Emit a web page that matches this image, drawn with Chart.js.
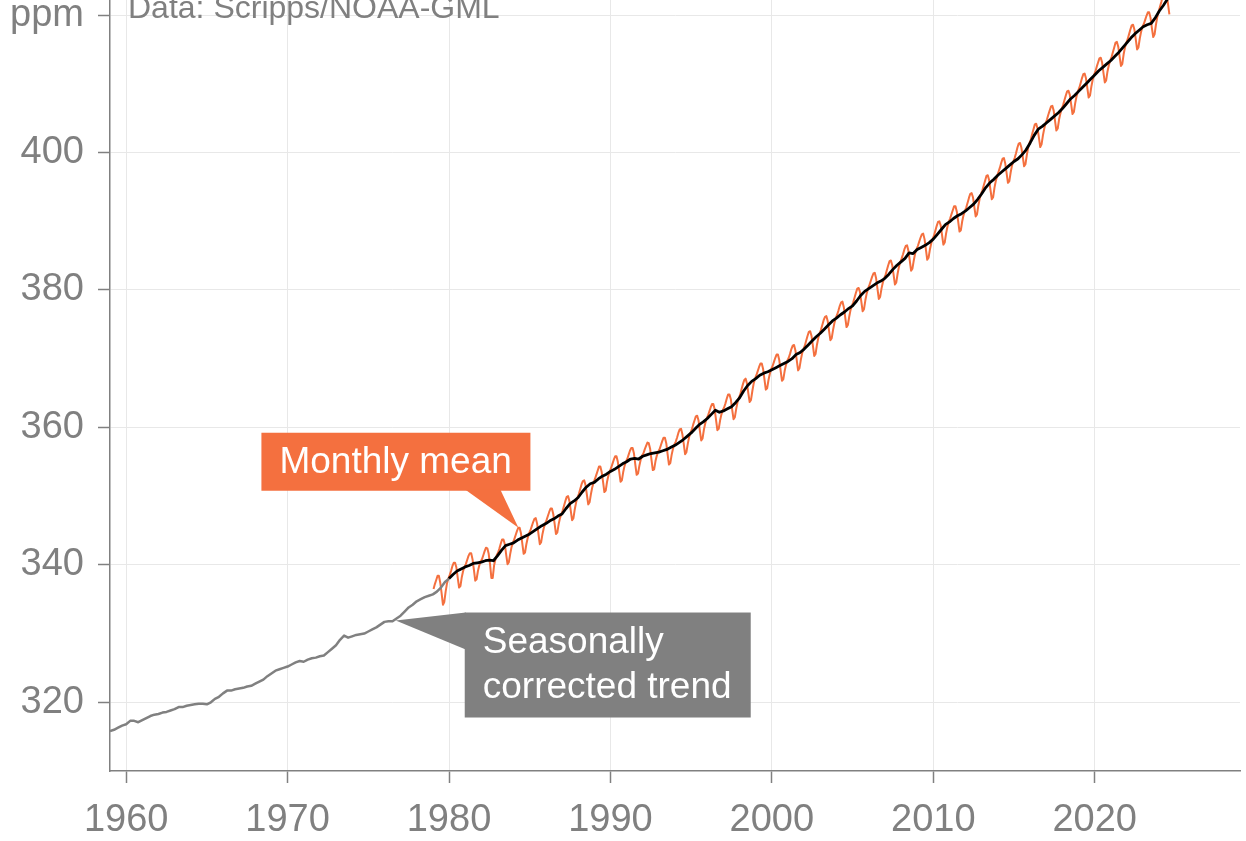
<!DOCTYPE html>
<html>
<head>
<meta charset="utf-8">
<script src="https://cdn.jsdelivr.net/npm/chart.js@4.4.1/dist/chart.umd.min.js"></script>
<style>
  html, body { margin: 0; padding: 0; background: #fff; }
  #wrap { width: 1246px; height: 841px; }
</style>
</head>
<body>
<div id="wrap"><canvas id="co2" width="1246" height="841"></canvas></div>
<script>
// ── Data ────────────────────────────────────────────────
const xTicks = [1960, 1970, 1980, 1990, 2000, 2010, 2020];
const yTicks = [320, 340, 360, 380, 400, 420];

// seasonally corrected trend (Mauna Loa), quarterly from 1959.0
const grayStart = 1959;
const grayTrend = [
  315.8, 316.0, 316.3, 316.6,  316.8, 317.3, 317.3, 317.1,  317.4, 317.7, 318.0, 318.2,
  318.3, 318.5, 318.6, 318.8,  319.0, 319.3, 319.3, 319.5,  319.6, 319.7, 319.8, 319.8,
  319.7, 320.0, 320.5, 320.8,  321.3, 321.7, 321.7, 321.9,  322.0, 322.1, 322.3, 322.4,
  322.7, 323.0, 323.3, 323.8,  324.2, 324.6, 324.8, 325.0,  325.2, 325.5, 325.8, 326.0,
  325.9, 326.2, 326.4, 326.5,  326.7, 326.8, 327.3, 327.8,  328.3, 329.1, 329.7, 329.4,
  329.6, 329.8, 329.9, 330.0,  330.3, 330.6, 330.9, 331.3,  331.7, 331.8, 331.8, 332.2,
  332.6, 333.2, 333.8, 334.2,  334.7, 335.0, 335.3, 335.5,  335.7, 336.1, 336.7, 337.5,
  338.0
];

// monthly mean, Jan 1979 – Aug 2024 (one row per year)
const monthlyStart = 1979;
const monthlyMean = [
  336.5, 337.2, 337.8, 338.4, 338.4, 337.4, 335.9, 334.2, 334.6, 336.1, 337.3, 338.0,
  338.5, 339.1, 339.8, 340.3, 340.3, 339.6, 338.1, 336.7, 336.9, 338.2, 339.1, 339.7,
  340.1, 340.7, 341.3, 341.7, 341.7, 340.8, 339.3, 337.7, 337.9, 339.1, 339.9, 340.5,
  340.8, 341.4, 342.0, 342.5, 342.4, 341.6, 340.1, 338.1, 338.1, 339.9, 340.8, 341.4,
  341.8, 342.4, 343.1, 343.7, 343.7, 343.0, 341.5, 340.1, 340.4, 341.6, 342.6, 343.2,
  343.7, 344.3, 344.9, 345.4, 345.4, 344.6, 343.1, 341.6, 341.8, 343.0, 343.9, 344.6,
  345.0, 345.6, 346.2, 346.7, 346.8, 346.0, 344.5, 343.0, 343.3, 344.5, 345.4, 346.0,
  346.5, 347.1, 347.7, 348.2, 348.2, 347.4, 346.0, 344.5, 344.7, 345.9, 346.8, 347.4,
  347.9, 348.6, 349.3, 349.9, 350.0, 349.3, 347.9, 346.5, 346.8, 348.1, 349.1, 349.8,
  350.3, 351.0, 351.7, 352.2, 352.3, 351.6, 350.2, 348.8, 349.1, 350.3, 351.3, 352.0,
  352.5, 353.1, 353.7, 354.3, 354.3, 353.5, 352.1, 350.6, 350.8, 352.1, 353.0, 353.6,
  354.1, 354.7, 355.3, 355.8, 355.8, 355.0, 353.6, 352.1, 352.3, 353.5, 354.4, 355.0,
  355.4, 356.0, 356.6, 357.0, 357.0, 356.2, 354.6, 353.1, 353.3, 354.4, 355.3, 355.9,
  356.2, 356.8, 357.3, 357.8, 357.7, 356.9, 355.3, 353.8, 353.9, 355.1, 355.9, 356.5,
  356.8, 357.4, 358.0, 358.5, 358.5, 357.7, 356.1, 354.6, 354.8, 356.0, 356.9, 357.5,
  357.9, 358.5, 359.2, 359.7, 359.8, 359.0, 357.6, 356.1, 356.4, 357.6, 358.6, 359.2,
  359.7, 360.4, 361.0, 361.6, 361.7, 361.0, 359.5, 358.1, 358.4, 359.7, 360.6, 361.3,
  361.7, 362.3, 362.9, 363.4, 363.4, 362.6, 361.1, 359.6, 359.8, 361.0, 361.9, 362.5,
  362.9, 363.5, 364.2, 364.8, 364.8, 364.1, 362.6, 361.2, 361.5, 362.7, 363.7, 364.3,
  364.8, 365.6, 366.3, 366.9, 367.1, 366.4, 365.0, 363.7, 364.0, 365.3, 366.4, 367.1,
  367.6, 368.2, 368.8, 369.3, 369.3, 368.5, 367.0, 365.5, 365.7, 366.9, 367.8, 368.5,
  368.9, 369.5, 370.1, 370.6, 370.6, 369.8, 368.3, 366.8, 367.0, 368.2, 369.1, 369.7,
  370.1, 370.7, 371.4, 371.9, 372.0, 371.2, 369.8, 368.3, 368.6, 369.8, 370.8, 371.4,
  371.9, 372.6, 373.3, 373.9, 374.0, 373.3, 371.9, 370.4, 370.7, 372.0, 373.0, 373.7,
  374.2, 374.9, 375.6, 376.1, 376.2, 375.5, 374.1, 372.7, 373.0, 374.2, 375.2, 375.9,
  376.4, 377.0, 377.7, 378.2, 378.3, 377.5, 376.1, 374.6, 374.9, 376.1, 377.1, 377.7,
  378.2, 378.9, 379.6, 380.2, 380.3, 379.7, 378.3, 376.9, 377.2, 378.5, 379.5, 380.2,
  380.7, 381.3, 381.9, 382.4, 382.5, 381.7, 380.2, 378.7, 379.0, 380.2, 381.1, 381.7,
  382.2, 382.9, 383.6, 384.2, 384.3, 383.6, 382.2, 380.8, 381.1, 382.4, 383.4, 384.1,
  384.6, 385.2, 385.9, 386.4, 386.5, 385.7, 384.3, 382.8, 383.1, 384.3, 385.3, 385.9,
  386.4, 387.0, 387.6, 388.1, 388.2, 387.4, 385.9, 384.4, 384.7, 385.9, 386.8, 387.4,
  387.9, 388.6, 389.3, 389.9, 390.0, 389.4, 388.0, 386.6, 386.9, 388.2, 389.2, 389.9,
  390.4, 391.0, 391.6, 392.2, 392.2, 391.4, 390.0, 388.5, 388.7, 390.0, 390.9, 391.5,
  392.0, 392.7, 393.4, 394.0, 394.1, 393.5, 392.1, 390.7, 391.0, 392.3, 393.3, 394.0,
  394.5, 395.2, 395.9, 396.6, 396.7, 396.0, 394.6, 393.2, 393.5, 394.9, 395.9, 396.6,
  397.2, 397.8, 398.5, 399.1, 399.2, 398.4, 397.0, 395.6, 395.8, 397.1, 398.1, 398.7,
  399.2, 399.9, 400.7, 401.3, 401.4, 400.7, 399.4, 398.0, 398.3, 399.6, 400.7, 401.4,
  401.9, 402.7, 403.4, 404.1, 404.2, 403.5, 402.2, 400.8, 401.2, 402.5, 403.5, 404.3,
  404.8, 405.5, 406.1, 406.7, 406.8, 406.1, 404.6, 403.2, 403.5, 404.8, 405.7, 406.4,
  406.9, 407.6, 408.3, 408.9, 409.0, 408.4, 407.0, 405.6, 405.9, 407.2, 408.2, 408.9,
  409.4, 410.1, 410.8, 411.4, 411.5, 410.8, 409.4, 408.0, 408.3, 409.6, 410.6, 411.3,
  411.8, 412.5, 413.1, 413.7, 413.8, 413.1, 411.6, 410.2, 410.5, 411.8, 412.7, 413.4,
  413.9, 414.6, 415.3, 416.0, 416.1, 415.4, 414.0, 412.6, 412.9, 414.3, 415.3, 416.0,
  416.5, 417.2, 417.9, 418.5, 418.6, 417.9, 416.5, 415.0, 415.3, 416.6, 417.6, 418.3,
  418.7, 419.3, 419.9, 420.4, 420.4, 419.6, 418.1, 416.8, 417.2, 418.6, 419.7, 420.5,
  421.2, 421.9, 422.7, 423.4, 423.6, 423.0, 421.6, 420.1
];

// seasonally corrected global trend, quarterly from 1980.0
const trendStart = 1980;
const trendLine = [
  338.0, 338.6, 339.1, 339.4,  339.7, 339.9, 340.2, 340.3,  340.4, 340.6, 340.7, 340.6,
  341.3, 342.1, 342.8, 343.0,  343.2, 343.6, 343.9, 344.2,  344.5, 344.9, 345.3, 345.7,
  346.0, 346.4, 346.7, 347.1,  347.4, 348.2, 348.9, 349.3,  349.8, 350.6, 351.3, 351.8,
  352.0, 352.5, 352.9, 353.2,  353.6, 353.9, 354.3, 354.7,  355.0, 355.4, 355.5, 355.4,
  355.8, 356.0, 356.2, 356.3,  356.4, 356.6, 356.8, 357.1,  357.4, 357.8, 358.2, 358.7,
  359.2, 359.8, 360.4, 360.8,  361.3, 361.9, 362.5, 362.2,  362.4, 362.7, 363.0, 363.6,
  364.3, 365.3, 366.1, 366.7,  367.1, 367.6, 367.9, 368.1,  368.4, 368.7, 369.0, 369.3,
  369.6, 370.0, 370.6, 370.9,  371.4, 372.0, 372.6, 373.2,  373.7, 374.3, 374.9, 375.5,
  375.9, 376.4, 376.8, 377.3,  377.7, 378.4, 379.2, 379.8,  380.2, 380.6, 381.0, 381.3,
  381.7, 382.3, 383.0, 383.6,  384.1, 384.6, 385.4, 385.3,  385.9, 386.2, 386.5, 386.9,
  387.4, 388.1, 388.8, 389.5,  389.9, 390.4, 390.8, 391.1,  391.5, 392.0, 392.5, 393.2,
  394.0, 394.9, 395.6, 396.1,  396.7, 397.2, 397.7, 398.2,  398.7, 399.1, 399.7, 400.4,
  401.4, 402.5, 403.4, 403.8,  404.3, 404.8, 405.3, 405.8,  406.4, 407.1, 407.8, 408.3,
  408.9, 409.5, 410.1, 410.7,  411.3, 411.9, 412.4, 412.9,  413.4, 414.0, 414.6, 415.3,
  416.0, 416.7, 417.3, 417.8,  418.3, 418.6, 418.8, 419.6,  420.6, 421.4, 422.3
];

// where the two callouts point (year, ppm)
const monthlyLabelAt = [1984.3, 345.4];
const trendLabelAt   = [1976.7, 331.9];

// ── Styling ─────────────────────────────────────────────
const FONT   = "'Liberation Sans', Arial, Helvetica, sans-serif";
const GREY   = "#808080";
const ORANGE = "#f4703f";

const toPoints = (start, step, arr) => arr.map((v, i) => ({ x: start + i * step, y: v }));

// callout boxes + source line
const callouts = {
    id: "callouts",
    afterDatasetsDraw(chart) {
        const { ctx, scales: { x, y } } = chart;
        ctx.save();
        ctx.font = `37px ${FONT}`;
        ctx.textBaseline = "alphabetic";

        // monthly mean (orange), pointer goes down-right to the curve
        let ax = x.getPixelForValue(monthlyLabelAt[0]);
        let ay = y.getPixelForValue(monthlyLabelAt[1]);
        ctx.fillStyle = ORANGE;
        ctx.fillRect(ax - 257, ay - 95, 269, 58);
        ctx.beginPath();
        ctx.moveTo(ax - 53, ay - 38);
        ctx.lineTo(ax - 18, ay - 38);
        ctx.lineTo(ax, ay);
        ctx.closePath();
        ctx.fill();
        ctx.fillStyle = "#fff";
        ctx.fillText("Monthly mean", ax - 239, ay - 55);

        // seasonally corrected trend (grey), pointer goes left to the curve
        ax = x.getPixelForValue(trendLabelAt[0]);
        ay = y.getPixelForValue(trendLabelAt[1]);
        ctx.fillStyle = GREY;
        ctx.fillRect(ax + 69, ay - 8, 286, 105);
        ctx.beginPath();
        ctx.moveTo(ax + 70, ay - 8);
        ctx.lineTo(ax + 70, ay + 29);
        ctx.lineTo(ax, ay);
        ctx.closePath();
        ctx.fill();
        ctx.fillStyle = "#fff";
        ctx.fillText("Seasonally", ax + 87, ay + 32);
        ctx.fillText("corrected trend", ax + 87, ay + 77);

        // source
        ctx.fillStyle = GREY;
        ctx.font = `32px ${FONT}`;
        ctx.fillText("Data: Scripps/NOAA-GML", chart.chartArea.left + 18, 18);
        ctx.restore();
    }
};

new Chart(document.getElementById("co2"), {
    type: "line",
    data: {
        datasets: [
            {
                label: "Seasonally corrected trend (early)",
                data: toPoints(grayStart, 0.25, grayTrend),
                borderColor: GREY,
                borderWidth: 2.5,
                order: 2,
            },
            {
                label: "Monthly mean",
                data: toPoints(monthlyStart + 1 / 24, 1 / 12, monthlyMean),
                borderColor: ORANGE,
                borderWidth: 2,
                order: 3,
            },
            {
                label: "Seasonally corrected trend",
                data: toPoints(trendStart, 0.25, trendLine),
                borderColor: "#000",
                borderWidth: 2.8,
                order: 1,
            },
        ],
    },
    options: {
        responsive: false,
        animation: false,
        devicePixelRatio: 1,
        layout: { padding: { left: 0, right: 6, top: 0, bottom: 0 } },
        elements: { point: { radius: 0 }, line: { tension: 0, borderJoinStyle: "round" } },
        plugins: { legend: { display: false }, tooltip: { enabled: false } },
        scales: {
            x: {
                type: "linear",
                min: 1959,
                max: 2029,
                afterBuildTicks: s => { s.ticks = xTicks.map(v => ({ value: v })); },
                afterFit: s => { s.height = 70; s.paddingLeft = 0; s.paddingRight = 0; },
                grid: { color: "#e8e8e8", lineWidth: 1, tickColor: GREY, tickLength: 12, tickWidth: 1.5 },
                border: { color: GREY, width: 1.5 },
                ticks: { color: GREY, font: { family: FONT, size: 38 }, padding: 15, maxRotation: 0, callback: v => String(v) },
            },
            y: {
                type: "linear",
                min: 310,
                max: 422.2,
                afterBuildTicks: s => { s.ticks = yTicks.map(v => ({ value: v })); },
                afterFit: s => { s.width = 110; s.paddingTop = 0; s.paddingBottom = 0; },
                grid: { color: "#e8e8e8", lineWidth: 1, tickColor: GREY, tickLength: 12, tickWidth: 1.5 },
                border: { color: GREY, width: 1.5 },
                ticks: { color: GREY, font: { family: FONT, size: 38 }, padding: 14, callback: v => v === 420 ? "ppm" : String(v) },
            },
        },
    },
    plugins: [callouts],
});
</script>
</body>
</html>
